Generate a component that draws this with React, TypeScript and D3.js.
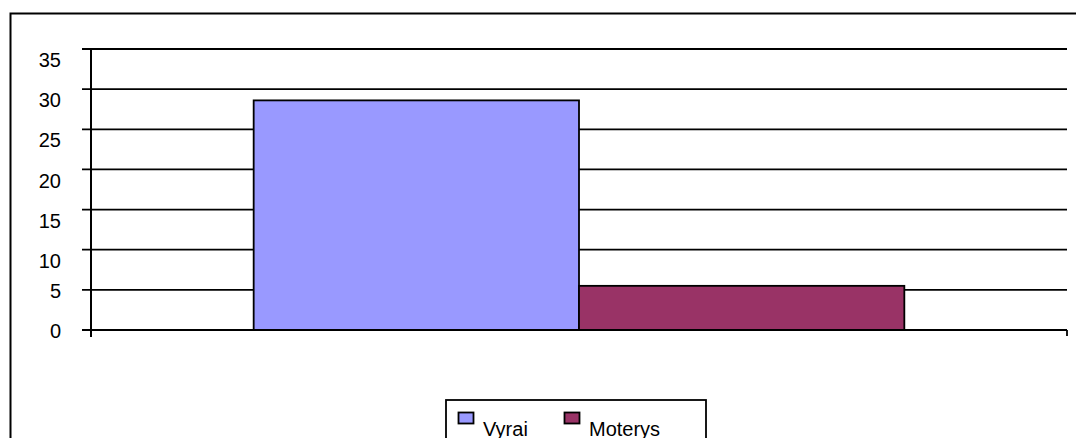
import React from "react";
import * as d3 from "d3";

const seriesNames = ["Vyrai", "Moterys"];
const seriesValues = [28.6, 5.5];
const seriesColors = ["#9999FF", "#993366"];
const yTicks = [0, 5, 10, 15, 20, 25, 30, 35];

const W = 1076;
const H = 438;
const plotLeft = 91;
const plotRight = 1067;
const plotTop = 49;
const plotBottom = 330;
const FONT = "'Liberation Sans', Arial, sans-serif";

export default function App() {
  const y = d3.scaleLinear().domain([0, 35]).range([plotBottom, plotTop]);
  const x = d3
    .scaleBand<string>()
    .domain(seriesNames)
    .range([plotLeft, plotRight])
    .paddingInner(0)
    .paddingOuter(0.5);

  // Excel-like label placement: upper labels sit slightly below their gridline
  const labelNudge = (v: number) => (v >= 10 ? 11 : 1);

  return (
    <svg
      width={W}
      height={H}
      style={{ position: "absolute", left: 0, top: 0, background: "#fff" }}
    >
      <rect x={0} y={0} width={W} height={H} fill="#fff" />
      {/* outer chart border */}
      <rect
        x={10.5}
        y={13.5}
        width={W + 20}
        height={H + 20}
        fill="none"
        stroke="#000"
        strokeWidth={2}
      />
      {/* gridlines + tick marks */}
      {yTicks.map((t) => (
        <line
          key={"g" + t}
          x1={plotLeft - 9}
          x2={plotRight}
          y1={y(t)}
          y2={y(t)}
          stroke="#000"
          strokeWidth={1.8}
        />
      ))}
      {/* bars */}
      {seriesNames.map((s, i) => (
        <rect
          key={s}
          x={x(s)!}
          y={y(seriesValues[i])}
          width={x.bandwidth()}
          height={y(0) - y(seriesValues[i])}
          fill={seriesColors[i]}
          stroke="#000"
          strokeWidth={1.8}
        />
      ))}
      {/* zero line on top */}
      <line
        x1={plotLeft - 9}
        x2={plotRight}
        y1={y(0)}
        y2={y(0)}
        stroke="#000"
        strokeWidth={1.8}
      />
      {/* value axis */}
      <line
        x1={plotLeft}
        x2={plotLeft}
        y1={plotTop}
        y2={plotBottom + 7}
        stroke="#000"
        strokeWidth={2}
      />
      {/* category tick at right end */}
      <line
        x1={plotRight}
        x2={plotRight}
        y1={plotBottom}
        y2={plotBottom + 6}
        stroke="#000"
        strokeWidth={1.8}
      />
      {/* y labels */}
      {yTicks.map((t) => (
        <text
          key={"l" + t}
          x={61}
          y={y(t) + labelNudge(t)}
          dy="0.36em"
          textAnchor="end"
          fontFamily={FONT}
          fontSize={20}
          fill="#000"
        >
          {t}
        </text>
      ))}
      {/* legend */}
      <rect
        x={446}
        y={400}
        width={260}
        height={60}
        fill="#fff"
        stroke="#000"
        strokeWidth={1.8}
      />
      {seriesNames.map((s, i) => {
        const lx = 458 + i * 106;
        return (
          <g key={"lg" + s}>
            <rect
              x={lx + 0.5}
              y={412.5}
              width={15}
              height={11}
              fill={seriesColors[i]}
              stroke="#000"
              strokeWidth={1.8}
            />
            <text
              x={lx + 25}
              y={436}
              fontFamily={FONT}
              fontSize={20}
              fill="#000"
            >
              {s}
            </text>
          </g>
        );
      })}
    </svg>
  );
}
